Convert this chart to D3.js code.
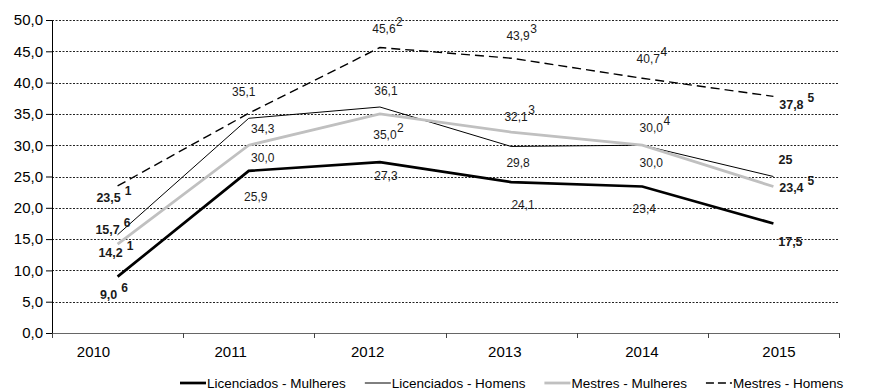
<!DOCTYPE html>
<html>
<head>
<meta charset="utf-8">
<script src="https://cdn.jsdelivr.net/npm/d3@7"></script>
<style>
body { margin: 0; background: #fff; }
svg { display: block; font-family: "Liberation Sans", Arial, sans-serif; }
</style>
</head>
<body>
<svg width="877" height="392"></svg>
<script>
var years = ["2010", "2011", "2012", "2013", "2014", "2015"];
var licMulheres = [9.0, 25.9, 27.3, 24.1, 23.4, 17.5];
var licHomens = [15.7, 34.3, 36.1, 29.8, 30.0, 25];
var mesMulheres = [14.2, 30.0, 35.0, 32.1, 30.0, 23.4];
var mesHomens = [23.5, 35.1, 45.6, 43.9, 40.7, 37.8];
var notesLicMulheres = ["6", "", "", "", "", ""];
var notesLicHomens = ["6", "", "", "", "", ""];
var notesMesMulheres = ["1", "", "2", "3", "4", "5"];
var notesMesHomens = ["1", "", "2", "3", "4", "5"];
var decimalsLicHomens = [1, 1, 1, 1, 1, 0];
var yTicks = [0, 5, 10, 15, 20, 25, 30, 35, 40, 45, 50];
var names = ["Licenciados - Mulheres", "Licenciados - Homens", "Mestres - Mulheres", "Mestres - Homens"];

// where each data label sits, relative to its point
var offLicMulheres = [[-9, 18], [7, 26], [6, 14], [12, 23], [2, 22], [17, 18]];
var offLicHomens = [[-10, -5], [14, 11], [6, -16], [7, 16], [9, 18], [12, -17]];
var offMesMulheres = [[-7, 9], [14, 13], [5, 21], [5, -15], [9, -17], [18, 1]];
var offMesHomens = [[-9, 12], [-5, -21], [4, -19], [7, -22], [6, -19], [18, 8]];

var series = [
	{ name: names[0], values: licMulheres, notes: notesLicMulheres, off: offLicMulheres, color: "#000", width: 2.7, dash: null },
	{ name: names[1], values: licHomens, notes: notesLicHomens, off: offLicHomens, color: "#000", width: 1, dash: null, dec: decimalsLicHomens },
	{ name: names[2], values: mesMulheres, notes: notesMesMulheres, off: offMesMulheres, color: "#c0c0c0", width: 2.8, dash: null },
	{ name: names[3], values: mesHomens, notes: notesMesHomens, off: offMesHomens, color: "#000", width: 1.4, dash: "9,5" }
];

var svg = d3.select("svg"),
	margin = { top: 20, right: 38, bottom: 59, left: 52 },
	width = +svg.attr("width") - margin.left - margin.right,
	height = +svg.attr("height") - margin.top - margin.bottom,
	g = svg.append("g").attr("transform", "translate(" + margin.left + "," + margin.top + ")");

var x = d3.scaleBand().domain(years).range([0, width]);
var y = d3.scaleLinear().domain([0, 50]).range([height, 0]);
// category labels are spread a little wider than the bands in the original
var xLab = d3.scalePoint().domain(years).range([41, 726.5]);

function comma(v, d) {
	return d3.format("." + d + "f")(v).replace(".", ",");
}

// gridlines
g.selectAll(".grid")
	.data(yTicks.filter(function(d) { return d > 0; }))
	.enter().append("line")
	.attr("x1", 0).attr("x2", width)
	.attr("y1", function(d) { return Math.round(y(d)) + 0.5; })
	.attr("y2", function(d) { return Math.round(y(d)) + 0.5; })
	.attr("stroke", "#222")
	.attr("stroke-dasharray", "2,1.5");

// y axis
var yAxis = g.append("g")
	.call(d3.axisLeft(y).tickValues(yTicks).tickSize(6).tickSizeOuter(0).tickPadding(3)
		.tickFormat(function(d) { return comma(d, 1); }));
yAxis.selectAll("text").attr("font-size", 15).attr("fill", "#000").style("font-family", "'Liberation Sans', Arial, sans-serif");
yAxis.select(".domain").attr("stroke", "#000");

// x axis
var xAxis = g.append("g")
	.attr("transform", "translate(0," + height + ")")
	.call(d3.axisBottom(xLab).tickSize(0).tickPadding(13));
xAxis.select(".domain").remove();
xAxis.selectAll("text").attr("font-size", 15).attr("fill", "#000").style("font-family", "'Liberation Sans', Arial, sans-serif");
xAxis.append("line")
	.attr("x1", 0).attr("x2", width)
	.attr("y1", 0.5).attr("y2", 0.5)
	.attr("stroke", "#666");
xAxis.selectAll(".bound")
	.data(years.map(function(d) { return x(d); }).concat([width]))
	.enter().append("line")
	.attr("class", "bound")
	.attr("x1", function(d) { return Math.round(d) + 0.5; })
	.attr("x2", function(d) { return Math.round(d) + 0.5; })
	.attr("y1", 0).attr("y2", 5)
	.attr("stroke", "#444");

var line = d3.line()
	.x(function(d, i) { return x(years[i]) + x.bandwidth() / 2; })
	.y(function(d) { return y(d); });

g.selectAll(".serie")
	.data(series)
	.enter().append("path")
	.attr("class", "serie")
	.attr("d", function(s) { return line(s.values); })
	.attr("fill", "none")
	.attr("stroke", function(s) { return s.color; })
	.attr("stroke-width", function(s) { return s.width; })
	.attr("stroke-dasharray", function(s) { return s.dash; });

// data labels with footnote marks
series.forEach(function(s) {
	s.values.forEach(function(v, i) {
		var bold = (i == 0 || i == 5);
		var cx = x(years[i]) + x.bandwidth() / 2 + s.off[i][0],
			cy = y(v) + s.off[i][1];
		var t = g.append("text")
			.attr("x", cx).attr("y", cy).attr("dy", "0.35em")
			.attr("text-anchor", "middle")
			.attr("font-size", bold ? 12.5 : 12)
			.attr("font-weight", bold ? "bold" : "normal")
			.attr("fill", "#1a1a1a")
			.text(comma(v, s.dec ? s.dec[i] : 1));
		if (s.notes[i]) {
			var w = t.node().getComputedTextLength();
			g.append("text")
				.attr("x", cx + w / 2 + (bold ? 4 : 0.5)).attr("y", cy - 7).attr("dy", "0.35em")
				.attr("font-size", 12)
				.attr("font-weight", bold ? "bold" : "normal")
				.attr("fill", "#1a1a1a")
				.text(s.notes[i]);
		}
	});
});

// legend
var lx = 180, ly = 383;
series.forEach(function(s) {
	svg.append("line")
		.attr("x1", lx).attr("x2", lx + 26)
		.attr("y1", ly).attr("y2", ly)
		.attr("stroke", s.color)
		.attr("stroke-width", s.width)
		.attr("stroke-dasharray", s.dash ? "8,4" : null);
	var t = svg.append("text")
		.attr("x", lx + 27).attr("y", ly).attr("dy", "0.35em")
		.attr("font-size", 13.5)
		.attr("fill", "#000")
		.text(s.name);
	lx += 27 + t.node().getComputedTextLength() + 19;
});
</script>
</body>
</html>
